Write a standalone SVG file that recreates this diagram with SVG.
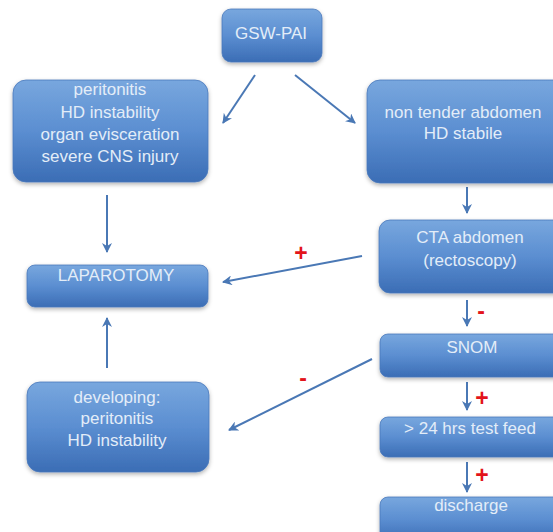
<svg xmlns="http://www.w3.org/2000/svg" width="553" height="532" viewBox="0 0 553 532">
<defs>
<linearGradient id="g" x1="0" y1="0" x2="0" y2="1">
<stop offset="0" stop-color="#78a7de"/>
<stop offset="0.5" stop-color="#5b8ed1"/>
<stop offset="1" stop-color="#3b6db5"/>
</linearGradient>
<filter id="sh" x="-10%" y="-10%" width="120%" height="130%">
<feDropShadow dx="0" dy="2" stdDeviation="2" flood-color="#000" flood-opacity="0.3"/>
</filter>
<marker id="ah" viewBox="0 0 10 10" refX="9" refY="5" markerWidth="10" markerHeight="10" markerUnits="userSpaceOnUse" orient="auto">
<path d="M0,0 L10,5 L0,10 L3,5 z" fill="#4a78b5"/>
</marker>
</defs>
<style>
.box{fill:url(#g);stroke:#4a78bb;stroke-width:0.8;filter:url(#sh)}
.t{font-family:"Liberation Sans",Arial,sans-serif;font-size:17px;fill:#e3edf8;text-anchor:middle}
.c{stroke:#4a78b5;stroke-width:2;fill:none;marker-end:url(#ah)}
.s{font-family:"Liberation Sans",Arial,sans-serif;font-weight:bold;fill:#e3141b;text-anchor:middle;font-size:23px}
</style>
<rect width="553" height="532" fill="#ffffff"/>
<g id="connectors">
<line class="c" x1="255" y1="75" x2="223" y2="123"/>
<line class="c" x1="295" y1="75" x2="355" y2="123"/>
<line class="c" x1="107" y1="195" x2="107" y2="252"/>
<line class="c" x1="467" y1="187" x2="467" y2="213"/>
<line class="c" x1="362" y1="256" x2="223" y2="282"/>
<line class="c" x1="467" y1="300" x2="467" y2="326"/>
<line class="c" x1="372" y1="359" x2="229" y2="430"/>
<line class="c" x1="107" y1="368" x2="107" y2="318"/>
<line class="c" x1="467" y1="382" x2="467" y2="410"/>
<line class="c" x1="467" y1="462" x2="467" y2="492"/>
<text class="s" x="301" y="261">+</text>
<text class="s" x="303" y="386">-</text>
<text class="s" x="481" y="319">-</text>
<text class="s" x="482" y="406">+</text>
<text class="s" x="482" y="483">+</text>
</g>
<g id="gsw">
<rect class="box" x="222" y="9" width="100" height="53" rx="9"/>
<text class="t" x="271" y="39">GSW-PAI</text>
</g>
<g id="left-criteria">
<rect class="box" x="13" y="80" width="195" height="102" rx="13"/>
<text class="t" x="110" y="95">peritonitis</text>
<text class="t" x="110" y="118">HD instability</text>
<text class="t" x="110" y="140">organ evisceration</text>
<text class="t" x="110" y="162">severe CNS injury</text>
</g>
<g id="right-criteria">
<rect class="box" x="367" y="80" width="200" height="103" rx="13"/>
<text class="t" x="463" y="118">non tender abdomen</text>
<text class="t" x="463" y="139">HD stabile</text>
</g>
<g id="laparotomy">
<rect class="box" x="27" y="265" width="181" height="42" rx="8"/>
<text class="t" x="116" y="281">LAPAROTOMY</text>
</g>
<g id="cta">
<rect class="box" x="379" y="220" width="190" height="73" rx="11"/>
<text class="t" x="470" y="243">CTA abdomen</text>
<text class="t" x="470" y="266">(rectoscopy)</text>
</g>
<g id="snom">
<rect class="box" x="380" y="334" width="190" height="43" rx="8"/>
<text class="t" x="472" y="353">SNOM</text>
</g>
<g id="developing">
<rect class="box" x="27" y="382" width="182" height="90" rx="13"/>
<text class="t" x="117" y="403">developing:</text>
<text class="t" x="117" y="424">peritonitis</text>
<text class="t" x="117" y="446">HD instability</text>
</g>
<g id="testfeed">
<rect class="box" x="380" y="417" width="190" height="40" rx="8"/>
<text class="t" x="470" y="434">&gt; 24 hrs test feed</text>
</g>
<g id="discharge">
<rect class="box" x="380" y="497" width="190" height="45" rx="8"/>
<text class="t" x="471" y="511">discharge</text>
</g>
</svg>
